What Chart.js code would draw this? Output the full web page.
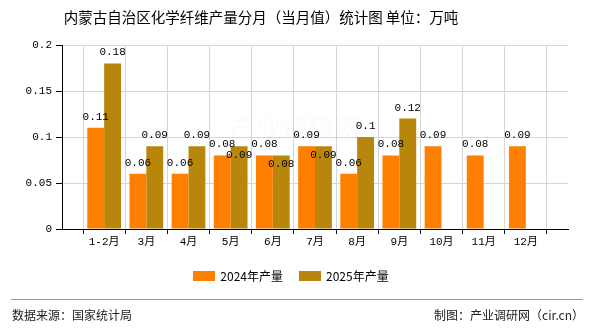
<!DOCTYPE html>
<html>
<head>
<meta charset="utf-8">
<script src="https://cdn.jsdelivr.net/npm/chart.js@4/dist/chart.umd.min.js"></script>
<style>
  html, body { margin: 0; padding: 0; background: #fff; }
  #wrap { width: 590px; height: 330px; position: relative; }
</style>
</head>
<body>
<div id="wrap"><canvas id="c" width="590" height="330"></canvas></div>
<script>
// Monthly chemical fibre output, Inner Mongolia (10k tonnes)
const titleText = '内蒙古自治区化学纤维产量分月（当月值）统计图 单位：万吨';
const months = ['1-2月', '3月', '4月', '5月', '6月', '7月', '8月', '9月', '10月', '11月', '12月'];
const output2024 = [0.11, 0.06, 0.06, 0.08, 0.08, 0.09, 0.06, 0.08, 0.09, 0.08, 0.09];
const output2025 = [0.18, 0.09, 0.09, 0.09, 0.08, 0.09, 0.1, 0.12, null, null, null];
const seriesNames = ['2024年产量', '2025年产量'];
const seriesColors = ['#FF8000', '#B8860B'];
const yTicks = [0, 0.05, 0.1, 0.15, 0.2];
const sourceText = '数据来源：国家统计局';
const creditText = '制图：产业调研网（cir.cn）';
const watermarkText = '产业调研网';

const CJK = '"Noto Sans CJK SC"';
const NUM_FONT = '11px "Liberation Mono", ' + CJK;

// The axis runs boundary to boundary, so month labels sit on grid lines;
// one blank slot pads each end.
const axisLabels = [''].concat(months, ['']);
const pad = arr => [null].concat(arr, [null]);

// Value labels: above each bar, or just inside the top of the later bar
// when it would collide with its neighbour's label.
const valueLabels = {
  id: 'valueLabels',
  afterDatasetsDraw(chart) {
    const ctx = chart.ctx;
    const a = chart.data.datasets[0].data;
    const b = chart.data.datasets[1].data;
    const ma = chart.getDatasetMeta(0).data;
    const mb = chart.getDatasetMeta(1).data;
    ctx.save();
    ctx.font = NUM_FONT;
    ctx.fillStyle = '#000';
    ctx.textAlign = 'center';
    ctx.textBaseline = 'middle';
    for (let i = 0; i < a.length; i++) {
      let ya = null;
      if (a[i] != null) {
        ya = ma[i].y - 11;
        ctx.fillText(String(a[i]), ma[i].x, ya);
      }
      if (b[i] != null) {
        let yb = mb[i].y - 11;
        if (ya != null && Math.abs(yb - ya) < 12) yb = mb[i].y + 9;
        ctx.fillText(String(b[i]), mb[i].x, yb);
      }
    }
    ctx.restore();
  }
};

// Title, watermark, legend and footer drawn around the plot.
const decorations = {
  id: 'decorations',
  beforeDatasetsDraw(chart) {
    const ctx = chart.ctx;
    const area = chart.chartArea;
    ctx.save();
    ctx.font = '26px ' + CJK;
    ctx.fillStyle = 'rgba(190, 120, 120, 0.04)';
    ctx.textAlign = 'center';
    ctx.textBaseline = 'middle';
    ctx.fillText(watermarkText, area.left + (area.right - area.left) * 0.46, 128);
    ctx.restore();
  },
  afterDraw(chart) {
    const ctx = chart.ctx;
    const w = chart.width;
    ctx.save();
    // title
    ctx.font = '14.5px ' + CJK;
    ctx.fillStyle = '#000';
    ctx.textAlign = 'center';
    ctx.textBaseline = 'middle';
    ctx.fillText(titleText, 261, 17);

    // legend
    ctx.font = '12px ' + CJK;
    const boxW = 22, boxH = 10, gapText = 5, gapItem = 16;
    const widths = seriesNames.map(n => boxW + gapText + ctx.measureText(n).width);
    const total = widths.reduce((s, v) => s + v, 0) + gapItem * (widths.length - 1);
    let x = 291 - total / 2;
    const ly = 276;
    ctx.textAlign = 'left';
    seriesNames.forEach((n, k) => {
      ctx.fillStyle = chart.data.datasets[k].backgroundColor;
      ctx.fillRect(Math.round(x), ly - boxH / 2, boxW, boxH);
      ctx.fillStyle = '#000';
      ctx.fillText(n, x + boxW + gapText, ly);
      x += widths[k] + gapItem;
    });

    // footer
    ctx.strokeStyle = '#999';
    ctx.lineWidth = 1;
    ctx.beginPath();
    ctx.moveTo(11, 299.5);
    ctx.lineTo(w - 7, 299.5);
    ctx.stroke();
    ctx.font = '12px ' + CJK;
    ctx.fillStyle = '#222';
    ctx.textAlign = 'left';
    ctx.fillText(sourceText, 12, 315);
    ctx.textAlign = 'right';
    ctx.fillText(creditText, w - 6, 315);
    ctx.restore();
  }
};

new Chart(document.getElementById('c'), {
  type: 'bar',
  data: {
    labels: axisLabels,
    datasets: [
      { label: seriesNames[0], data: pad(output2024), backgroundColor: seriesColors[0] },
      { label: seriesNames[1], data: pad(output2025), backgroundColor: seriesColors[1] }
    ]
  },
  options: {
    responsive: false,
    animation: false,
    devicePixelRatio: 1,
    layout: { padding: { top: 45, right: 22, bottom: 81, left: 0 } },
    datasets: { bar: { barPercentage: 1, categoryPercentage: 0.8 } },
    plugins: {
      legend: { display: false },
      title: { display: false },
      tooltip: { enabled: false }
    },
    scales: {
      x: {
        type: 'category',
        offset: false,
        grid: { color: '#d6d6d6', tickColor: '#000', tickLength: 5, lineWidth: 1 },
        border: { color: '#000', width: 1 },
        ticks: { color: '#000', font: { family: '"Liberation Mono", ' + CJK, size: 11 }, padding: 1, maxRotation: 0, autoSkip: false },
        afterFit(s) { s.height = 20; }
      },
      y: {
        min: 0,
        max: 0.2,
        grid: { color: '#d6d6d6', tickColor: '#000', tickLength: 6, lineWidth: 1 },
        border: { color: '#000', width: 1 },
        afterBuildTicks(s) { s.ticks = yTicks.map(v => ({ value: v })); },
        ticks: { color: '#000', font: { family: '"Liberation Mono", ' + CJK, size: 11 }, padding: 4, callback: v => String(v) },
        afterFit(s) { s.width = 62; }
      }
    }
  },
  plugins: [valueLabels, decorations]
});
</script>
</body>
</html>
